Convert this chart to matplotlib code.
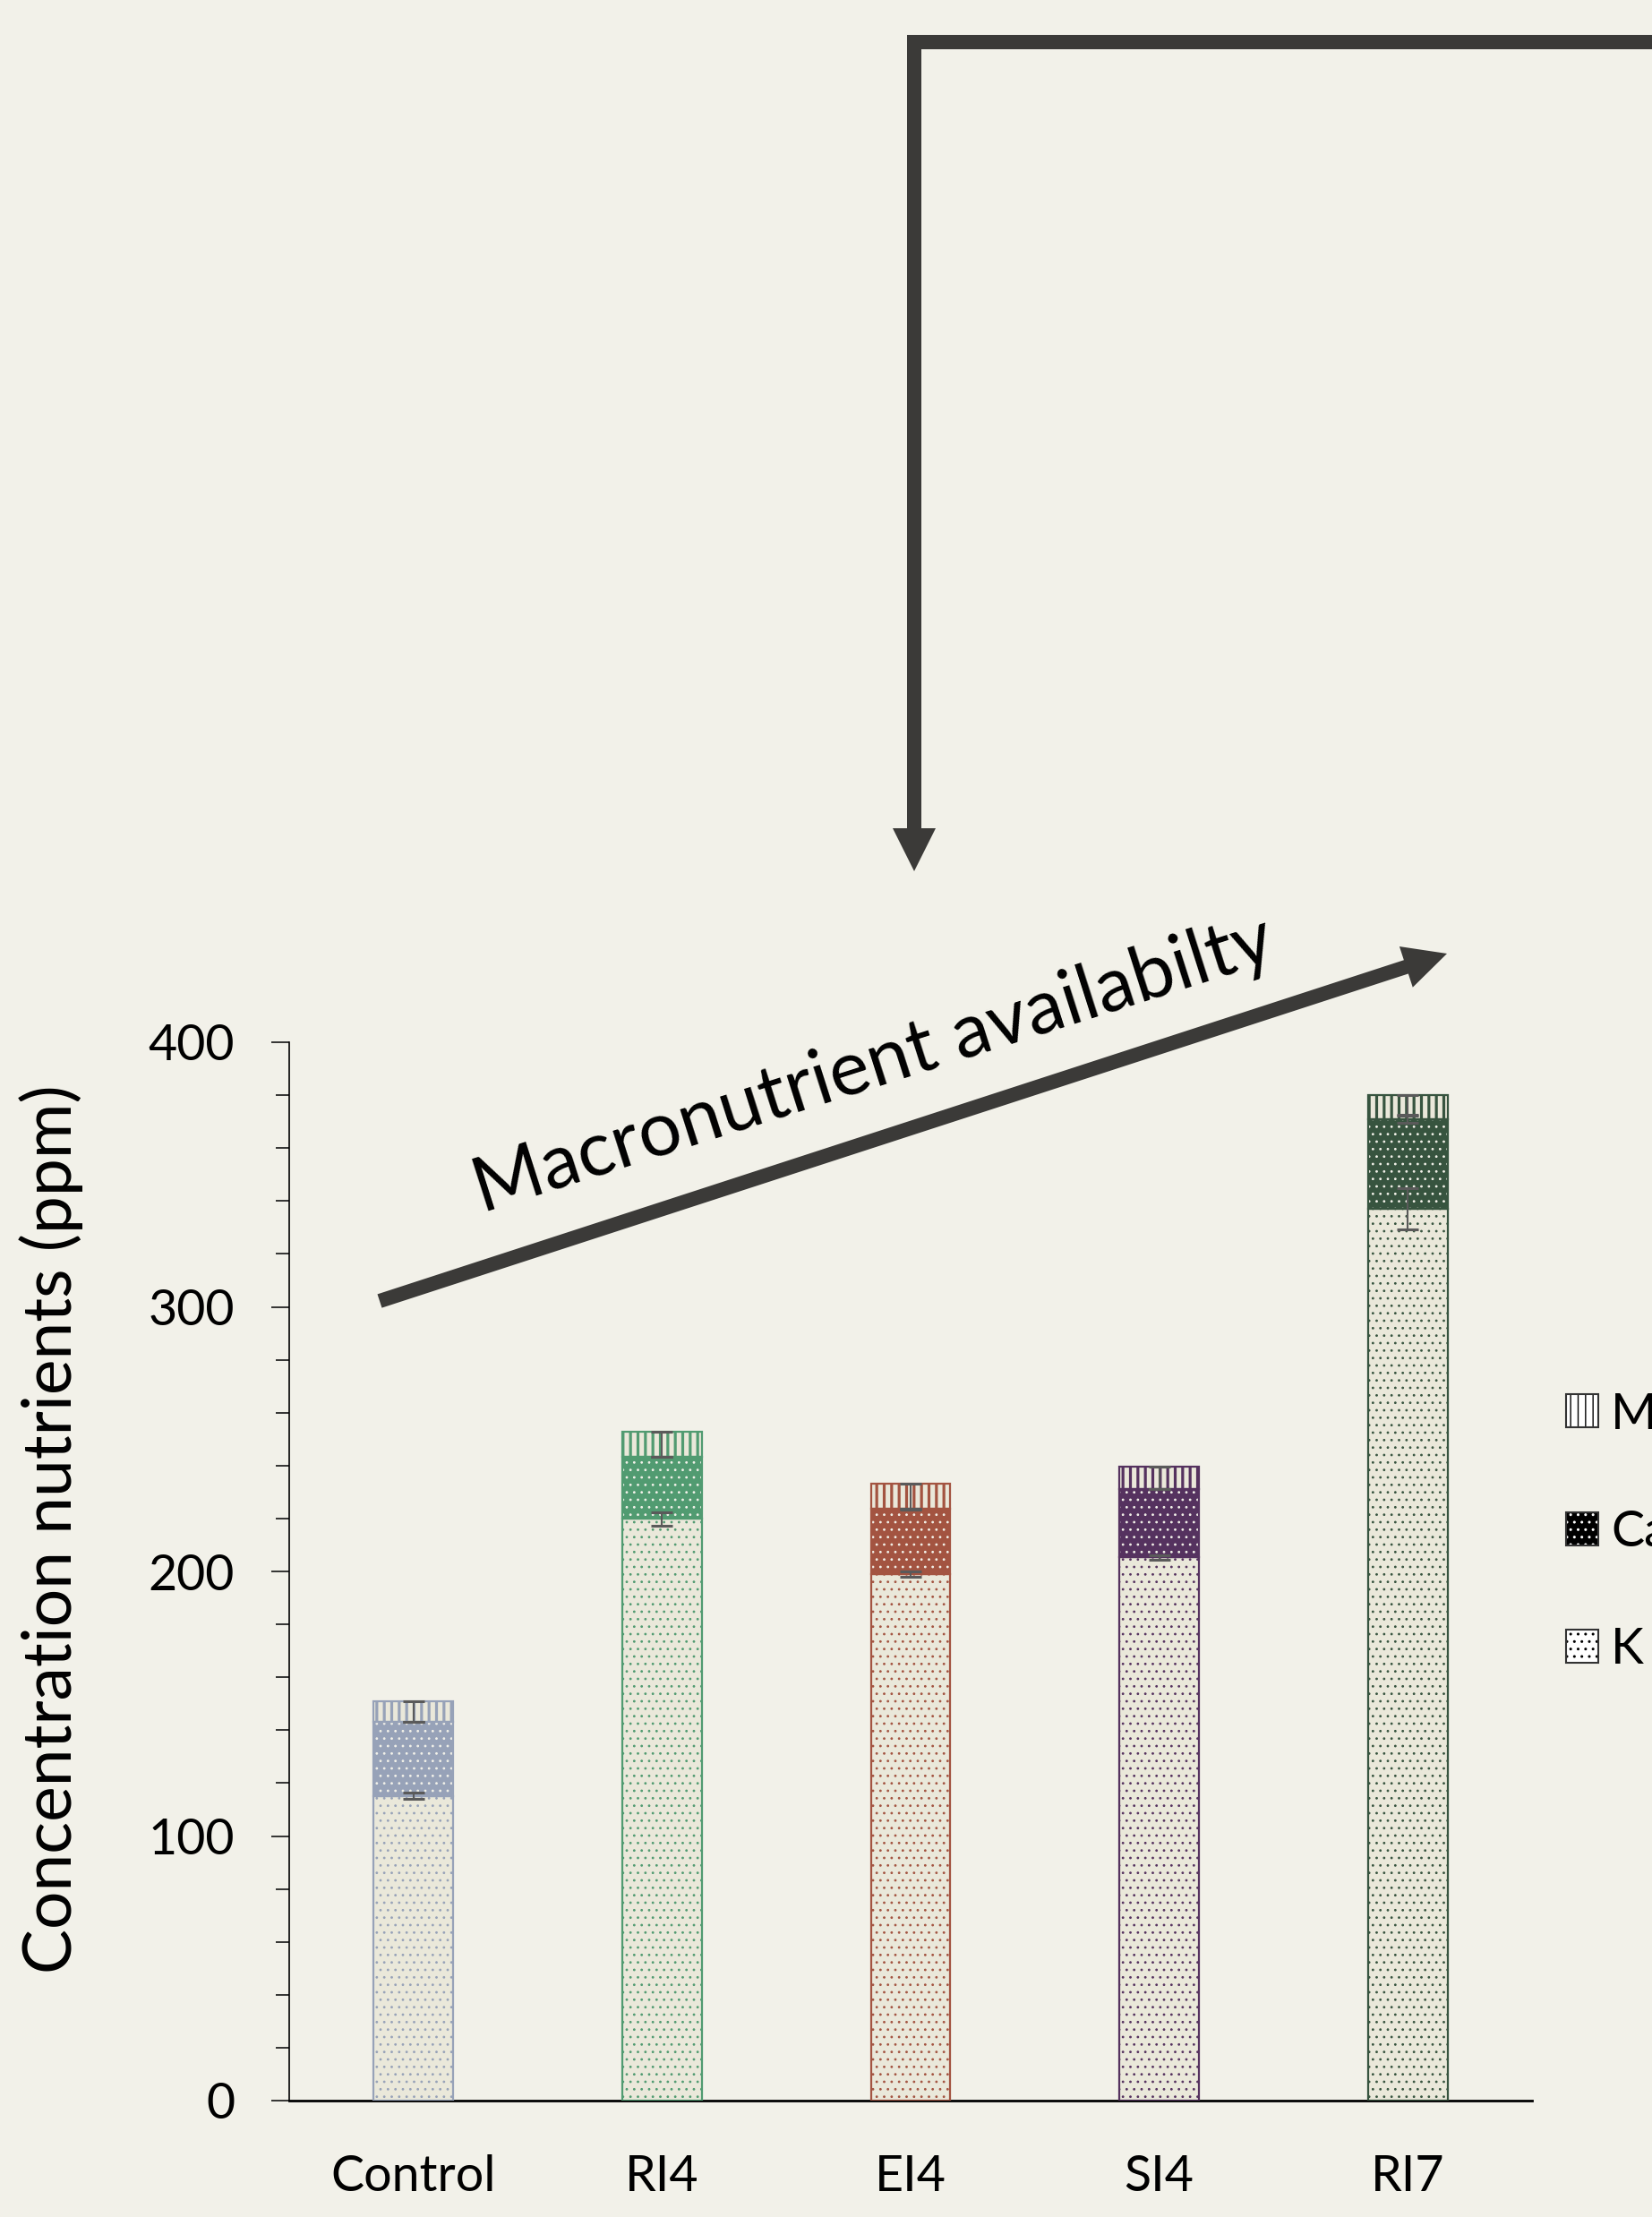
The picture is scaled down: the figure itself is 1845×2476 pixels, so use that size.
import numpy as np
import matplotlib
matplotlib.use("Agg")
import matplotlib.pyplot as plt
from matplotlib.patches import Patch, FancyArrow, Rectangle
from matplotlib.legend_handler import HandlerTuple
from matplotlib.ticker import MultipleLocator

plt.rcParams['font.family'] = ['Lato', 'DejaVu Sans']

# data (ppm)
treatments = ["Control", "RI4", "EI4", "SI4", "RI7"]
k_vals = [115.2, 219.8, 199.0, 205.3, 337.0]
ca_vals = [27.8, 23.4, 24.7, 25.8, 34.0]
mg_vals = [7.8, 9.7, 9.6, 8.6, 9.0]
k_err = [1.2, 2.4, 0.9, 0.8, 7.7]
ca_err = [0.0, 0.0, 0.0, 0.0, 1.5]
mg_err = [7.8, 9.7, 9.8, 8.6, 7.7]   # drawn downward only
nutrients = ["Mg", "Ca", "K"]

colors = ["#97A2B8", "#519B71", "#A35441", "#55325F", "#37543F"]
bg = "#F2F1E9"
cream = "#EAE8DA"
arrow_c = "#3B3A38"
err_c = "#5A5A5A"

W, H = 1845, 2476
fig = plt.figure(figsize=(W / 100, H / 100), dpi=100, facecolor=bg)
ax = fig.add_axes([323 / W, (H - 2346) / H, 1388 / W, 1182 / H])
ax.set_facecolor(bg)

x = np.arange(len(treatments))
k = np.array(k_vals)
ca = np.array(ca_vals)
mg = np.array(mg_vals)
width = 0.32


def hatch_lw(bars, lw):
    for p in bars:
        if hasattr(p, "set_hatch_linewidth"):
            p.set_hatch_linewidth(lw)


# K layer: cream with coloured dots
b = ax.bar(x, k, width, color=cream, edgecolor=colors, hatch="..", lw=0, zorder=2)
hatch_lw(b, 0.8)
ax.bar(x, k, width, fill=False, edgecolor=colors, lw=1.6, zorder=3)
# Ca layer: coloured with light dots
b = ax.bar(x, ca, width, bottom=k, color=colors, edgecolor=bg, hatch="..", lw=0, zorder=2)
hatch_lw(b, 0.8)
ax.bar(x, ca, width, bottom=k, fill=False, edgecolor=colors, lw=1.6, zorder=3)
# Mg layer: vertical stripes
b = ax.bar(x, mg, width, bottom=k + ca, color=cream, edgecolor=colors, hatch="||", lw=0, zorder=2)
hatch_lw(b, 2.3)
ax.bar(x, mg, width, bottom=k + ca, fill=False, edgecolor=colors, lw=1.6, zorder=3)

eb = dict(fmt="none", ecolor=err_c, elinewidth=1.5, capsize=8.6, capthick=2.2, zorder=5)
ax.errorbar(x, k, yerr=k_err, **eb)
ax.errorbar(x, k + ca, yerr=ca_err, **eb)
ax.errorbar(x, k + ca + mg, yerr=[mg_err, np.zeros(len(x))], **eb)

ax.set_xlim(-0.5, 4.5)
ax.set_ylim(0, 400)
ax.set_xticks(x)
ax.set_xticklabels(treatments)
ax.set_yticks([0, 100, 200, 300, 400])
ax.yaxis.set_minor_locator(MultipleLocator(20))
ax.tick_params(axis="y", which="major", length=14.4, width=1.1, pad=29.5, labelsize=40)
ax.tick_params(axis="y", which="minor", length=10.8, width=1.1)
ax.tick_params(axis="x", length=0, pad=43, labelsize=40)
for s in ["top", "right"]:
    ax.spines[s].set_visible(False)
ax.spines["left"].set_linewidth(1.2)
ax.spines["bottom"].set_linewidth(2.0)

fig.text(57 / 100, (H - 1708) / 100, "Concentration nutrients (ppm)", rotation=90,
         ha="center", va="center", fontsize=54, transform=fig.dpi_scale_trans)

# legend
def leg_handle(fc, hc, hatch, lw):
    p = Patch(facecolor=fc, edgecolor=hc, hatch=hatch, lw=0)
    if hasattr(p, "set_hatch_linewidth"):
        p.set_hatch_linewidth(lw)
    return (p, Patch(facecolor="none", edgecolor="#333333", lw=1.5))


handles = [leg_handle("white", "black", "||", 2.3),
           leg_handle("black", "white", "..", 0.8),
           leg_handle("white", "black", "..", 0.8)]
ax.legend(handles, nutrients, handler_map={tuple: HandlerTuple(ndivide=1, pad=0)},
          loc="center left", bbox_to_anchor=(1749 / W, 1 - 1711 / H),
          bbox_transform=fig.transFigure, frameon=False, fontsize=40,
          handlelength=0.65, handleheight=0.65, handletextpad=0.25,
          labelspacing=1.44, borderpad=0, borderaxespad=0)

# annotation arrows (figure pixels -> inches)
def px(xp, yp):
    return xp / 100, (H - yp) / 100


tr = fig.dpi_scale_trans
x0, y0 = px(424, 1453)
x1, y1 = px(1616, 1065)
fig.add_artist(FancyArrow(x0, y0, x1 - x0, y1 - y0, width=0.16, head_width=0.48,
                          head_length=0.48, length_includes_head=True,
                          color=arrow_c, lw=0, transform=tr))
hx, hy = px(1013, 55)
fig.add_artist(Rectangle((hx, hy), 9.0, 0.16, color=arrow_c, lw=0, transform=tr))
vx0, vy0 = px(1021, 39)
vx1, vy1 = px(1021, 973)
fig.add_artist(FancyArrow(vx0, vy0, 0, vy1 - vy0, width=0.16, head_width=0.48,
                          head_length=0.48, length_includes_head=True,
                          color=arrow_c, lw=0, transform=tr))

tx, ty = px(975, 1190)
fig.text(tx, ty, "Macronutrient availabilty", rotation=17.7, rotation_mode="anchor",
         ha="center", va="center", fontsize=61, transform=tr)

fig.savefig("out.png", dpi=100, facecolor=bg)
